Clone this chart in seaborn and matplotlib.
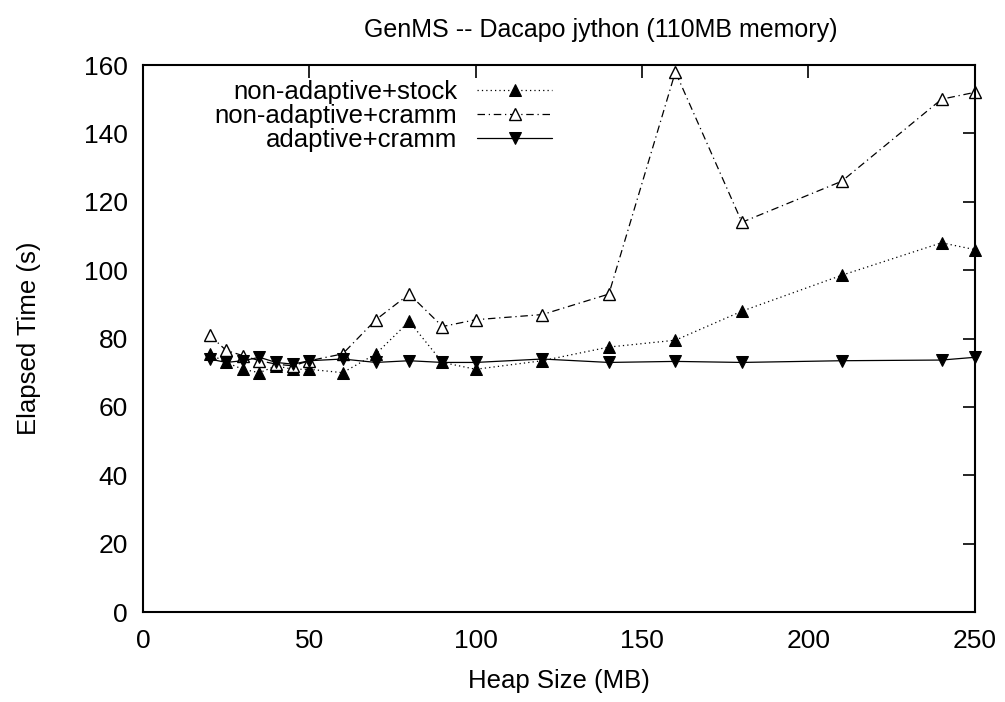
import pandas as pd
import numpy as np
import seaborn as sns
import matplotlib.pyplot as plt

sns.set_theme(style="white")
plt.rcParams['font.family'] = ['Liberation Sans', 'DejaVu Sans']
plt.rcParams['text.color'] = 'black'
plt.rcParams['axes.labelcolor'] = 'black'

## Data
heap = [20, 25, 30, 35, 40, 45, 50, 60, 70, 80, 90, 100, 120, 140, 160, 180, 210, 240, 250]
stock = [75.5, 73, 71, 70, 72, 71, 71, 70, 75.5, 85, 73, 71, 73.5, 77.5, 79.5, 88, 98.5, 108, 106]
cramm = [81, 76.5, 75, 73.5, 72.5, 72, 73.5, 75.5, 85.5, 93, 83.5, 85.5, 87, 93, 158, 114, 126, 150, 152]
adaptive = [74, 73, 73.5, 74.5, 73, 72.5, 73.5, 74, 73, 73.5, 73, 73, 74, 73, 73.3, 73, 73.5, 73.7, 74.5]

df = pd.DataFrame({"heap": heap, "stock": stock, "cramm": cramm, "adaptive": adaptive})

fig = plt.figure(figsize=(10.05, 7.02), dpi=100)
ax = fig.add_axes([0.1423, 0.1282, 0.8277, 0.7792])

sns.lineplot(data=df, x="heap", y="stock", ax=ax, color="black", lw=0.9,
             linestyle=(0, (1, 2.5)), marker="^", markersize=9, markerfacecolor="black",
             markeredgecolor="black", label="non-adaptive+stock", clip_on=False)
sns.lineplot(data=df, x="heap", y="cramm", ax=ax, color="black", lw=0.9,
             linestyle=(0, (6, 3, 1, 3)), marker="^", markersize=9, markerfacecolor="white",
             markeredgecolor="black", markeredgewidth=1, label="non-adaptive+cramm", clip_on=False)
sns.lineplot(data=df, x="heap", y="adaptive", ax=ax, color="black", lw=0.9,
             linestyle="-", marker="v", markersize=9, markerfacecolor="black",
             markeredgecolor="black", label="adaptive+cramm", clip_on=False)

ax.set_xlim(0, 250)
ax.set_ylim(0, 160)
ax.set_xticks(np.arange(0, 251, 50))
ax.set_yticks(np.arange(0, 161, 20))
ax.tick_params(direction="in", length=9, width=1.2, top=True, right=True,
               labelsize=19, colors="black")
ax.tick_params(axis="x", pad=12)
ax.tick_params(axis="y", pad=11)
for s in ax.spines.values():
    s.set_color("black")
    s.set_linewidth(1.5)
ax.grid(False)

ax.set_xlabel("Heap Size (MB)", fontsize=18.5, va="center")
ax.xaxis.set_label_coords(0.5, -0.126)
ax.set_ylabel("Elapsed Time (s)", fontsize=18.5, va="center")
ax.yaxis.set_label_coords(-0.137, 0.5)
fig.text(0.598, 1 - 30 / 702, "GenMS -- Dacapo jython (110MB memory)",
         fontsize=18, ha="center", va="center")

ax.legend(loc="upper right", bbox_to_anchor=(0.513, 1.005), frameon=False,
          markerfirst=False, fontsize=18.5, handlelength=2.9, labelspacing=0.0,
          handletextpad=0.78, borderaxespad=0.3)

plt.savefig("out.png", dpi=100)
